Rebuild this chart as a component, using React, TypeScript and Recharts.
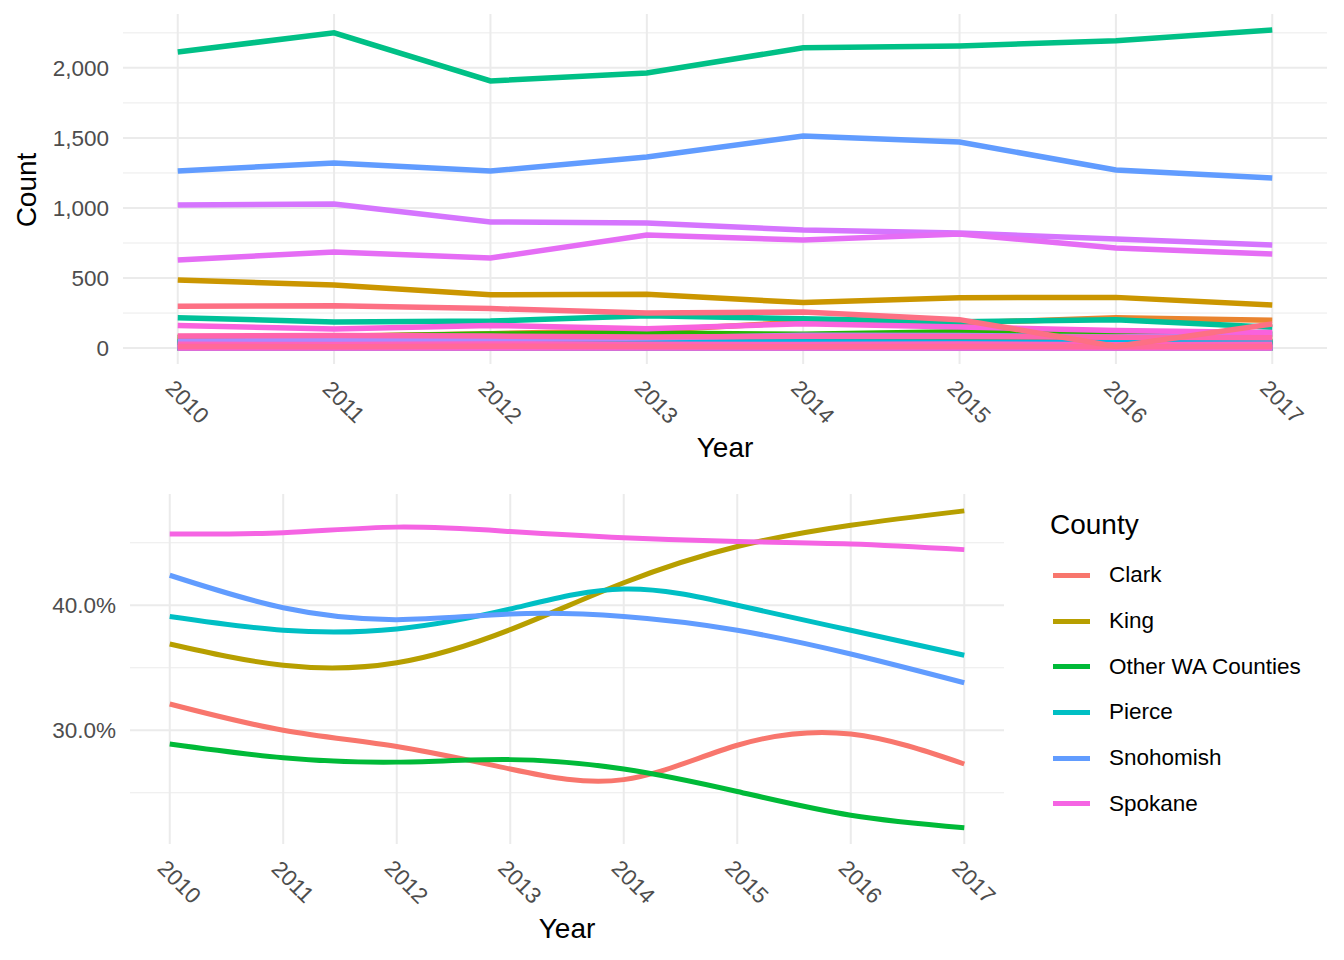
import { LineChart, Line, XAxis, YAxis, CartesianGrid } from "recharts";

const years = [2010, 2011, 2012, 2013, 2014, 2015, 2016, 2017];

// yearly counts by county (alphabetical, the order sets the hue)
const adams = [14, 12, 15, 11, 13, 10, 12, 9];
const asotin = [9, 7, 8, 10, 6, 8, 7, 9];
const benton = [78, 84, 103, 126, 186, 178, 217, 198];
const chelan = [34, 31, 36, 30, 38, 33, 35, 31];
const clallam = [29, 26, 31, 27, 25, 30, 28, 24];
const clark = [486, 450, 381, 384, 325, 360, 362, 307];
const columbia = [1, 0, 2, 1, 0, 1, 1, 0];
const cowlitz = [56, 52, 58, 61, 55, 60, 54, 57];
const douglas = [11, 9, 12, 10, 13, 11, 9, 10];
const ferry = [2, 3, 1, 2, 2, 1, 3, 2];
const franklin = [42, 38, 45, 40, 47, 44, 41, 46];
const garfield = [0, 1, 0, 0, 1, 0, 0, 1];
const grant = [76, 82, 100, 107, 98, 116, 107, 99];
const graysHarbor = [44, 47, 41, 46, 43, 48, 45, 42];
const island = [36, 33, 38, 35, 31, 37, 34, 36];
const jefferson = [12, 10, 13, 11, 12, 9, 11, 10];
const king = [2114, 2250, 1907, 1964, 2143, 2157, 2193, 2271];
const kitsap = [217, 186, 193, 230, 210, 188, 203, 148];
const kittitas = [24, 27, 22, 26, 25, 28, 23, 27];
const klickitat = [6, 5, 7, 6, 4, 6, 5, 7];
const lewis = [41, 37, 43, 39, 44, 40, 38, 42];
const lincoln = [3, 2, 4, 3, 2, 3, 4, 2];
const mason = [38, 39, 43, 44, 42, 40, 39, 41];
const okanogan = [16, 14, 17, 15, 18, 16, 13, 15];
const pacific = [8, 7, 9, 6, 8, 7, 8, 6];
const pendOreille = [1, 0, 1, 0, 0, 1, 0, 0];
const pierce = [1264, 1321, 1264, 1364, 1514, 1471, 1271, 1214];
const sanJuan = [5, 4, 6, 5, 4, 5, 3, 5];
const skagit = [50, 55, 60, 72, 91, 90, 80, 100];
const skamania = [3, 2, 3, 4, 2, 3, 2, 3];
const snohomish = [1021, 1029, 900, 893, 843, 821, 779, 736];
const spokane = [629, 686, 643, 807, 771, 814, 714, 671];
const stevens = [15, 13, 16, 14, 17, 15, 12, 14];
const thurston = [162, 136, 162, 138, 174, 150, 126, 112];
const wahkiakum = [1, 0, 0, 1, 0, 0, 1, 0];
const wallaWalla = [28, 25, 30, 27, 26, 29, 24, 27];
const whatcom = [86, 90, 86, 80, 84, 82, 78, 74];
const whitman = [12, 10, 13, 11, 9, 12, 10, 11];
const yakima = [298, 303, 282, 250, 257, 203, 12, 172];

const countyCounts: [string, number[]][] = [
  ["Adams", adams], ["Asotin", asotin], ["Benton", benton], ["Chelan", chelan],
  ["Clallam", clallam], ["Clark", clark], ["Columbia", columbia], ["Cowlitz", cowlitz],
  ["Douglas", douglas], ["Ferry", ferry], ["Franklin", franklin], ["Garfield", garfield],
  ["Grant", grant], ["Grays Harbor", graysHarbor], ["Island", island], ["Jefferson", jefferson],
  ["King", king], ["Kitsap", kitsap], ["Kittitas", kittitas], ["Klickitat", klickitat],
  ["Lewis", lewis], ["Lincoln", lincoln], ["Mason", mason], ["Okanogan", okanogan],
  ["Pacific", pacific], ["Pend Oreille", pendOreille], ["Pierce", pierce], ["San Juan", sanJuan],
  ["Skagit", skagit], ["Skamania", skamania], ["Snohomish", snohomish], ["Spokane", spokane],
  ["Stevens", stevens], ["Thurston", thurston], ["Wahkiakum", wahkiakum], ["Walla Walla", wallaWalla],
  ["Whatcom", whatcom], ["Whitman", whitman], ["Yakima", yakima],
];

// smoothed share (%) for the bottom panel
const shareCounties = ["Clark", "King", "Other WA Counties", "Pierce", "Snohomish", "Spokane"];
const clarkShare = [32.1, 30.0, 28.7, 26.9, 26.05, 28.8, 29.7, 27.3];
const kingShare = [36.9, 35.2, 35.4, 38.05, 41.8, 44.7, 46.4, 47.55];
const otherShare = [28.9, 27.8, 27.45, 27.65, 26.9, 25.1, 23.2, 22.2];
const pierceShare = [39.1, 38.0, 38.1, 39.7, 41.3, 40.0, 38.0, 36.0];
const snohomishShare = [42.4, 39.8, 38.85, 39.3, 39.1, 38.0, 36.1, 33.8];
const spokaneShare = [45.7, 45.8, 46.25, 45.9, 45.4, 45.1, 44.9, 44.45];
const shares = [clarkShare, kingShare, otherShare, pierceShare, snohomishShare, spokaneShare];

const countTicks = [0, 500, 1000, 1500, 2000];
const countMinor = [250, 750, 1250, 1750, 2250];
const shareTicks = [30, 40];
const shareMinor = [25, 35, 45];

// ggplot2 hue palette: hcl(h, c = 100, l = 65)
function hcl(h: number, c = 100, l = 65) {
  const hr = (h * Math.PI) / 180;
  const U = c * Math.cos(hr);
  const V = c * Math.sin(hr);
  const Y = 100 * Math.pow((l + 16) / 116, 3);
  const t = 95.047 + 15 * 100 + 3 * 108.883;
  const u = U / (13 * l) + (4 * 95.047) / t;
  const v = V / (13 * l) + (9 * 100) / t;
  const X = (9 * Y * u) / (4 * v);
  const Z = -X / 3 - 5 * Y + (3 * Y) / v;
  const x = X / 100, y = Y / 100, z = Z / 100;
  const lin = [
    3.240479 * x - 1.53715 * y - 0.498535 * z,
    -0.969256 * x + 1.875992 * y + 0.041556 * z,
    0.055648 * x - 0.204043 * y + 1.057311 * z,
  ];
  return "#" + lin.map((c0) => {
    const g = c0 <= 0.0031308 ? 12.92 * c0 : 1.055 * Math.pow(c0, 1 / 2.4) - 0.055;
    const n = Math.round(Math.min(1, Math.max(0, g)) * 255);
    return n.toString(16).padStart(2, "0");
  }).join("");
}
const huePal = (n: number) => Array.from({ length: n }, (_, i) => hcl(15 + (i * 360) / n));

const countyColors = huePal(countyCounts.length);
const shareColors = huePal(shareCounties.length);

const countRows = years.map((year, i) => {
  const row: Record<string, number> = { year };
  countyCounts.forEach(([name, vals]) => { row[name] = vals[i]; });
  return row;
});
const shareRows = years.map((year, i) => {
  const row: Record<string, number> = { year };
  shareCounties.forEach((name, k) => { row[name] = shares[k][i]; });
  return row;
});

const FONT = '"Liberation Sans", Arial, Helvetica, sans-serif';
const GRID = "#EBEBEB";
const TICK = { fill: "#4D4D4D", fontSize: 22.5 };

function YearTick({ x, y, payload }: any) {
  const cx = x + 9.5;
  const cy = y + 38;
  return (
    <text x={cx} y={cy} transform={`rotate(45 ${cx} ${cy})`} textAnchor="middle"
      dominantBaseline="central" fill="#4D4D4D" fontSize={22.5}>
      {payload.value}
    </text>
  );
}

const titleStyle: React.CSSProperties = {
  position: "absolute", fontSize: 28, color: "#000", whiteSpace: "nowrap",
  lineHeight: "28px", transform: "translate(-50%, -50%)",
};

export default function App() {
  return (
    <div style={{ position: "absolute", left: 0, top: 0, width: 1344, height: 960, background: "#fff", fontFamily: FONT }}>
      <div style={{ position: "absolute", left: 0, top: 0 }}>
        <LineChart width={1344} height={470} data={countRows} margin={{ top: 14, right: 17, bottom: 0, left: 0 }}>
          <CartesianGrid vertical={false} stroke={GRID} strokeWidth={1} horizontalValues={countMinor} />
          <CartesianGrid stroke={GRID} strokeWidth={2} horizontalValues={countTicks} verticalValues={years} />
          <XAxis dataKey="year" type="number" domain={[2009.65, 2017.35]} ticks={years} height={106}
            axisLine={false} tickLine={false} tickSize={0} tickMargin={0} tick={<YearTick />} interval={0} />
          <YAxis type="number" domain={[-113.5, 2384.5]} ticks={countTicks} width={123}
            axisLine={false} tickLine={false} tickSize={0} tickMargin={14} tick={TICK}
            tickFormatter={(v: number) => v.toLocaleString("en-US")} />
          {countyCounts.map(([name], i) => (
            <Line key={name} dataKey={name} type="linear" stroke={countyColors[i]} strokeWidth={5.5}
              dot={false} activeDot={false} isAnimationActive={false} />
          ))}
        </LineChart>
      </div>
      <div style={{ position: "absolute", left: 0, top: 470 }}>
        <LineChart width={1344} height={490} data={shareRows} margin={{ top: 24, right: 340, bottom: 0, left: 0 }}>
          <CartesianGrid vertical={false} stroke={GRID} strokeWidth={1} horizontalValues={shareMinor} />
          <CartesianGrid stroke={GRID} strokeWidth={2} horizontalValues={shareTicks} verticalValues={years} />
          <XAxis dataKey="year" type="number" domain={[2009.65, 2017.35]} ticks={years} height={116}
            axisLine={false} tickLine={false} tickSize={0} tickMargin={0} tick={<YearTick />} interval={0} />
          <YAxis type="number" domain={[20.9, 48.9]} ticks={shareTicks} width={130}
            axisLine={false} tickLine={false} tickSize={0} tickMargin={14} tick={TICK}
            tickFormatter={(v: number) => `${v.toFixed(1)}%`} />
          {shareCounties.map((name, i) => (
            <Line key={name} dataKey={name} type="natural" stroke={shareColors[i]} strokeWidth={5}
              dot={false} activeDot={false} isAnimationActive={false} />
          ))}
        </LineChart>
      </div>

      <div style={{ ...titleStyle, left: 26.5, top: 189.5, transform: "translate(-50%, -50%) rotate(-90deg)" }}>Count</div>
      <div style={{ ...titleStyle, left: 725, top: 448 }}>Year</div>
      <div style={{ ...titleStyle, left: 567, top: 929 }}>Year</div>

      <div style={{ position: "absolute", left: 1050, top: 511, fontSize: 28, lineHeight: "28px", color: "#000" }}>County</div>
      {shareCounties.map((name, i) => (
        <div key={name} style={{ position: "absolute", left: 1053, top: 575.3 + i * 45.7 - 23, height: 46, display: "flex", alignItems: "center" }}>
          <div style={{ width: 37, height: 5, background: shareColors[i] }} />
          <div style={{ marginLeft: 19, fontSize: 22.5, color: "#000", whiteSpace: "nowrap" }}>{name}</div>
        </div>
      ))}
    </div>
  );
}
